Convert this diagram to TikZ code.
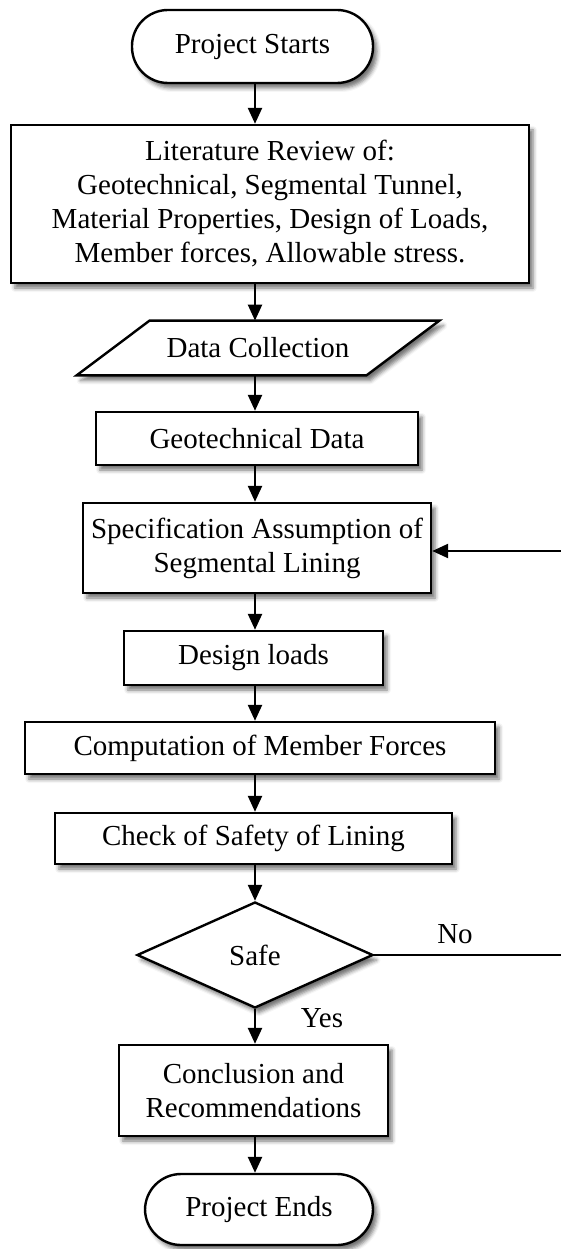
\documentclass[tikz,border=0pt]{standalone}
\usepackage{fontspec}
\setmainfont{Liberation Serif}
\usetikzlibrary{arrows.meta,shapes.geometric,shadows.blur,backgrounds}

\tikzset{
  shad/.style={blur shadow={shadow xshift=2bp,shadow yshift=-2.5bp,shadow blur radius=2bp,shadow opacity=55}},
  box/.style={draw,line width=1.2bp,fill=white,shad,inner sep=0pt,align=center},
  arr/.style={draw,line width=1.2bp,-{Triangle[length=8bp,width=7bp]}},
}

\begin{document}
\begin{tikzpicture}[x=0.5bp,y=-0.5bp,font=\fontsize{14.5bp}{17bp}\selectfont]
\useasboundingbox (0,0) rectangle (561,1249);

      \begin{scope}[every node/.style={box}]
        \node[rounded corners=18bp,minimum width=120.5bp,minimum height=36.5bp] (start) at (252.5,46.5) {Project Starts};
        \node[minimum width=259bp,minimum height=79bp] (lit) at (270,204) {Literature Review of:\\Geotechnical, Segmental Tunnel,\\Material Properties, Design of Loads,\\Member forces, Allowable stress.};
        \node[minimum width=161bp,minimum height=26.5bp] (geo) at (257,438.5) {Geotechnical Data};
        \node[minimum width=174bp,minimum height=45bp] (spec) at (257,548) {Specification Assumption of\\Segmental Lining};
        \node[minimum width=129.5bp,minimum height=27bp] (loads) at (253.5,658) {Design loads};
        \node[minimum width=235bp,minimum height=26bp] (comp) at (260,748) {Computation of Member Forces};
        \node[minimum width=198.5bp,minimum height=25.5bp] (check) at (253.5,838.5) {Check of Safety of Lining};
        \node[diamond,minimum width=118bp,minimum height=53bp] (safe) at (255,955) {Safe};
        \node[minimum width=134.5bp,minimum height=45.5bp] (concl) at (253.5,1090.5) {Conclusion and\\Recommendations};
        \node[rounded corners=18bp,minimum width=114bp,minimum height=35.5bp] (end) at (259,1209.5) {Project Ends};
      \end{scope}

      \node[inner sep=0pt,minimum width=144.5bp,minimum height=27bp] (data) at (258,348) {Data Collection};

      % parallelogram behind the data node
      \begin{scope}[on background layer]
        \draw[line width=1.2bp,fill=white,shad] ([xshift=-18.25bp]data.south west) -- ([xshift=-18.25bp]data.south east) -- ([xshift=18.25bp]data.north east) -- ([xshift=18.25bp]data.north west) -- cycle;
      \end{scope}

      \node (yes) at (322,1018) {Yes};
      \node (no) at (455,934) {No};

      \coordinate (spine) at (255,0);
      \coordinate (noend) at (561,955);
      \coordinate (back) at (561,551);

      \begin{scope}[every edge/.style={arr}]
        \path (start.south -| spine) edge (lit.north -| spine);
        \path (lit.south -| spine)   edge (data.north -| spine);
        \path (data.south -| spine)  edge (geo.north -| spine);
        \path (geo.south -| spine)   edge (spec.north -| spine);
        \path (spec.south -| spine)  edge (loads.north -| spine);
        \path (loads.south -| spine) edge (comp.north -| spine);
        \path (comp.south -| spine)  edge (check.north -| spine);
        \path (check.south -| spine) edge (safe.north);
        \path (safe.south)           edge (concl.north -| spine);
        \path (concl.south -| spine) edge (end.north -| spine);
        \path (back)                 edge (back -| spec.east);
      \end{scope}

      \draw[line width=1.2bp] (safe.east) -- (noend);

\end{tikzpicture}
\end{document}
